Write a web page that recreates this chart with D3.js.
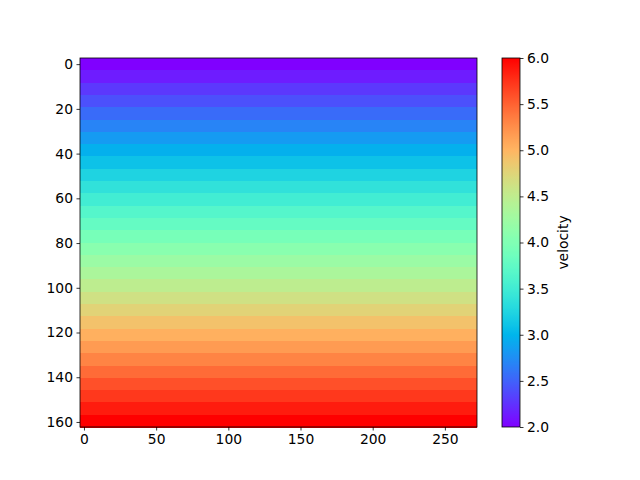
<!DOCTYPE html>
<html>
<head>
<meta charset="utf-8">
<script src="https://cdn.jsdelivr.net/npm/d3@7"></script>
<style>
  body { margin: 0; background: #fff; }
  text { font-family: "DejaVu Sans", sans-serif; font-size: 13.89px; fill: #000; }
</style>
</head>
<body>
<svg id="chart" width="640" height="480"></svg>
<script>
// ---- data ----
const velocity = [2.00, 2.14, 2.28, 2.41, 2.55, 2.69, 2.83, 2.97, 3.10, 3.24,
                  3.38, 3.52, 3.66, 3.79, 3.93, 4.07, 4.21, 4.34, 4.48, 4.62,
                  4.76, 4.90, 5.03, 5.17, 5.31, 5.45, 5.59, 5.72, 5.86, 6.00];
const nCols = 50;
const cellSize = 5.5;
const xTicks = [0, 50, 100, 150, 200, 250];
const yTicks = [0, 20, 40, 60, 80, 100, 120, 140, 160];
const cbTicks = [2.0, 2.5, 3.0, 3.5, 4.0, 4.5, 5.0, 5.5, 6.0];
const vmin = 2.0, vmax = 6.0;
const cbLabel = "velocity";

// matplotlib 'rainbow' colormap
function rainbow(t) {
  t = Math.max(0, Math.min(1, t));
  t = Math.round(t * 255) / 255;
  const r = Math.min(1, Math.abs(2 * t - 0.5));
  const g = Math.sin(Math.PI * t);
  const b = Math.cos(Math.PI * t / 2);
  return d3.rgb(r * 255, g * 255, b * 255).formatHex();
}

const svg = d3.select("#chart");
svg.append("rect").attr("width", 640).attr("height", 480).attr("fill", "#fff");

const L = 80, R = 477, T = 58, B = 427;
const x = d3.scaleLinear().domain([-cellSize / 2, nCols * cellSize - cellSize / 2]).range([L, R]);
const y = d3.scaleLinear().domain([-cellSize / 2, velocity.length * cellSize - cellSize / 2]).range([T, B]);
const norm = d3.scaleLinear().domain([vmin, vmax]).range([0, 1]);

// image rows
svg.append("g").selectAll("rect").data(velocity).join("rect")
  .attr("x", x(-cellSize / 2))
  .attr("width", x(nCols * cellSize - cellSize / 2) - x(-cellSize / 2))
  .attr("y", (d, i) => y(i * cellSize - cellSize / 2))
  .attr("height", (d, i) => y(i * cellSize + cellSize / 2) - y(i * cellSize - cellSize / 2) + 0.5)
  .attr("fill", d => rainbow(norm(d)))
  .attr("shape-rendering", "crispEdges");

// axes
const xAxis = d3.axisBottom(x).tickValues(xTicks).tickSize(3.5).tickPadding(3.5).tickFormat(d3.format("d"));
const yAxis = d3.axisLeft(y).tickValues(yTicks).tickSize(3.5).tickPadding(3.5).tickFormat(d3.format("d"));
const gx = svg.append("g").attr("transform", `translate(0,${B})`).call(xAxis);
const gy = svg.append("g").attr("transform", `translate(${L},0)`).call(yAxis);
[gx, gy].forEach(g => {
  g.select(".domain").remove();
  g.selectAll(".tick line").attr("stroke", "#000").attr("stroke-width", 0.8);
  g.selectAll(".tick text").style("font-family", "DejaVu Sans").style("font-size", "13.89px").attr("fill", "#000");
});
svg.append("rect").attr("x", L).attr("y", T).attr("width", R - L).attr("height", B - T)
  .attr("fill", "none").attr("stroke", "#000").attr("stroke-width", 0.8);

// colorbar
const cbL = 502, cbR = 520;
const cbY = d3.scaleLinear().domain([vmin, vmax]).range([B, T]);
const defs = svg.append("defs");
const grad = defs.append("linearGradient").attr("id", "cbgrad")
  .attr("x1", 0).attr("y1", 1).attr("x2", 0).attr("y2", 0);
const stops = d3.range(0, 257).map(i => i / 256);
grad.selectAll("stop").data(stops).join("stop")
  .attr("offset", d => d)
  .attr("stop-color", d => rainbow(d));
svg.append("rect").attr("x", cbL).attr("y", T).attr("width", cbR - cbL).attr("height", B - T)
  .attr("fill", "url(#cbgrad)");
const cbAxis = d3.axisRight(cbY).tickValues(cbTicks).tickSize(3.5).tickPadding(3.5).tickFormat(d3.format(".1f"));
const gcb = svg.append("g").attr("transform", `translate(${cbR},0)`).call(cbAxis);
gcb.select(".domain").remove();
gcb.selectAll(".tick line").attr("stroke", "#000").attr("stroke-width", 0.8);
gcb.selectAll(".tick text").style("font-family", "DejaVu Sans").style("font-size", "13.89px").attr("fill", "#000");
svg.append("rect").attr("x", cbL).attr("y", T).attr("width", cbR - cbL).attr("height", B - T)
  .attr("fill", "none").attr("stroke", "#000").attr("stroke-width", 0.8);

svg.append("text")
  .attr("transform", `translate(568,${(T + B) / 2}) rotate(-90)`)
  .attr("text-anchor", "middle")
  .text(cbLabel);
</script>
</body>
</html>
